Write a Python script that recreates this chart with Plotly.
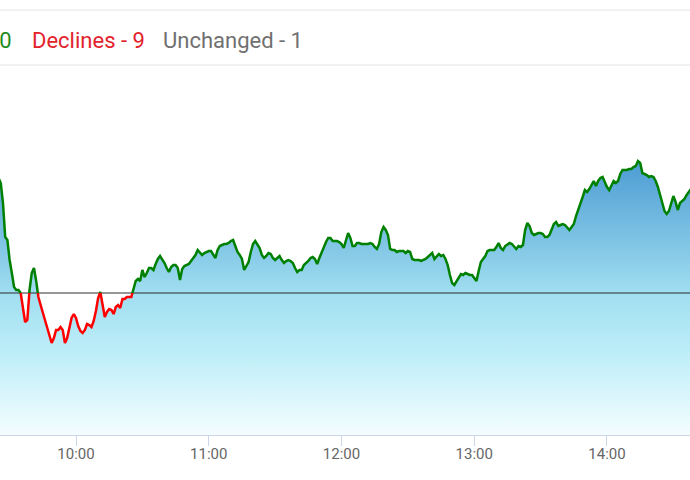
import pandas as pd
import plotly.graph_objects as go

# --- DATA ---
# intraday index, one print per minute starting 09:25 (earlier part is cropped off)
start_time = "2023-03-10 09:25"
prev_close = 17600

index_values = [
    17715, 17710, 17690, 17656, 17653, 17633, 17620, 17606, 17603, 17603,  # 09:25
    17600, 17583, 17571, 17573, 17603, 17620, 17625, 17612, 17596, 17588,  # 09:35
    17580, 17573, 17565, 17556, 17550, 17555, 17563, 17563, 17566, 17563,  # 09:45
    17550, 17555, 17566, 17575, 17579, 17575, 17567, 17562, 17560, 17563,  # 09:55
    17569, 17568, 17566, 17572, 17582, 17595, 17601, 17587, 17576, 17581,  # 10:05
    17584, 17583, 17579, 17586, 17588, 17585, 17594, 17594, 17596, 17596,  # 10:15
    17596, 17604, 17612, 17614, 17612, 17623, 17616, 17620, 17625, 17625,  # 10:25
    17623, 17629, 17634, 17637, 17634, 17630, 17625, 17621, 17626, 17628,  # 10:35
    17628, 17625, 17613, 17624, 17627, 17628, 17629, 17632, 17635, 17638,  # 10:45
    17643, 17640, 17638, 17640, 17641, 17642, 17642, 17639, 17635, 17643,  # 10:55
    17647, 17648, 17649, 17649, 17650, 17652, 17653, 17647, 17641, 17638,  # 11:05
    17634, 17623, 17627, 17631, 17641, 17649, 17652, 17648, 17645, 17638,  # 11:15
    17635, 17637, 17640, 17639, 17635, 17633, 17635, 17637, 17633, 17630,  # 11:25
    17632, 17633, 17632, 17630, 17625, 17621, 17623, 17623, 17628, 17630,  # 11:35
    17632, 17635, 17636, 17634, 17629, 17635, 17641, 17646, 17651, 17655,  # 11:45
    17655, 17652, 17652, 17652, 17651, 17649, 17645, 17653, 17660, 17655,  # 11:55
    17647, 17647, 17650, 17650, 17649, 17649, 17649, 17649, 17650, 17649,  # 12:05
    17646, 17644, 17649, 17661, 17666, 17663, 17658, 17644, 17643, 17643,  # 12:15
    17641, 17642, 17642, 17642, 17640, 17642, 17641, 17634, 17633, 17633,  # 12:25
    17633, 17632, 17633, 17634, 17636, 17638, 17640, 17634, 17637, 17639,  # 12:35
    17637, 17638, 17634, 17628, 17618, 17610, 17608, 17612, 17615, 17619,  # 12:45
    17618, 17620, 17619, 17618, 17618, 17615, 17612, 17622, 17631, 17634,  # 12:55
    17637, 17642, 17643, 17643, 17643, 17646, 17650, 17645, 17643, 17647,  # 13:05
    17649, 17650, 17649, 17646, 17644, 17647, 17646, 17648, 17663, 17670,  # 13:15
    17667, 17660, 17658, 17659, 17660, 17660, 17659, 17656, 17656, 17658,  # 13:25
    17664, 17669, 17671, 17667, 17668, 17669, 17668, 17665, 17663, 17666,  # 13:35
    17669, 17677, 17683, 17688, 17696, 17703, 17701, 17704, 17708, 17712,  # 13:45
    17707, 17712, 17715, 17716, 17711, 17706, 17703, 17707, 17712, 17710,  # 13:55
    17712, 17719, 17723, 17723, 17723, 17724, 17724, 17726, 17727, 17732,  # 14:05
    17730, 17720, 17719, 17718, 17716, 17717, 17716, 17712, 17706, 17699,  # 14:15
    17690, 17682, 17679, 17682, 17690, 17697, 17691, 17683, 17690, 17692,  # 14:25
    17694, 17698, 17701, 17704,                                            # 14:35
]

breadth_labels = ["Advances - 40", "Declines - 9", "Unchanged - 1"]
breadth_colors = ["#1f8c1f", "#e3232c", "#707070"]

times = pd.date_range(start_time, periods=len(index_values), freq="min")

# --- split the line into above / below previous close ---
def split_at_base(ts, vs, base):
    xs, ys = [], []
    for i, v in enumerate(vs):
        if i > 0 and (vs[i - 1] - base) * (v - base) < 0:
            f = (base - vs[i - 1]) / (v - vs[i - 1])
            xs.append(ts[i - 1] + (ts[i] - ts[i - 1]) * f)
            ys.append(base)
        xs.append(ts[i])
        ys.append(v)
    return xs, ys

xs, ys = split_at_base(list(times), index_values, prev_close)
above = [y if y >= prev_close else None for y in ys]
below = [y if y <= prev_close else None for y in ys]

y_range = [17458, 17828]
x_range = [pd.Timestamp("2023-03-10 09:25:39"), pd.Timestamp("2023-03-10 14:37:31")]

fig = go.Figure()

# gradient area
fig.add_trace(go.Scatter(
    x=times, y=index_values, mode="lines", line=dict(width=0),
    fill="tozeroy",
    fillgradient=dict(
        type="vertical",
        start=y_range[0], stop=max(index_values),
        colorscale=[[0, "#f4fdff"], [0.3, "#bdeef8"], [0.52, "#a0def0"], [1, "#4c9cd3"]],
    ),
    hoverinfo="skip", showlegend=False,
))

# previous close
fig.add_trace(go.Scatter(
    x=[times[0], times[-1]], y=[prev_close, prev_close], mode="lines",
    line=dict(color="rgba(40,40,40,0.65)", width=1.5),
    hoverinfo="skip", showlegend=False,
))

fig.add_trace(go.Scatter(
    x=xs, y=above, mode="lines", line=dict(color="#008000", width=2.5),
    connectgaps=False, showlegend=False,
))
fig.add_trace(go.Scatter(
    x=xs, y=below, mode="lines", line=dict(color="#ff0000", width=2.5),
    connectgaps=False, showlegend=False,
))

# breadth header (left part is cut off in the original view)
W = 690
label_pos = [(14, "right"), (30, "left"), (161, "left")]
for (px, anchor), txt, col in zip(label_pos, breadth_labels, breadth_colors):
    fig.add_annotation(
        x=px / W, y=(435 - 40) / 370, xref="paper", yref="paper",
        text=txt, showarrow=False, xanchor=anchor, yanchor="middle",
        font=dict(family="Roboto", size=22, color=col),
    )

for py in (10, 65):
    fig.add_shape(
        type="line", xref="paper", yref="paper",
        x0=0, x1=1, y0=(435 - py) / 370, y1=(435 - py) / 370,
        line=dict(color="#e4e4e4", width=1),
    )

fig.update_layout(
    width=690, height=480,
    margin=dict(l=0, r=0, t=65, b=45),
    paper_bgcolor="white", plot_bgcolor="white",
    showlegend=False,
    xaxis=dict(
        range=x_range, type="date",
        tickformat="%H:%M", dtick=3600000, tick0="2023-03-10 10:00",
        ticks="outside", ticklen=10, tickcolor="#ccd6eb", tickwidth=1,
        showline=True, linecolor="#ccd6eb", linewidth=1,
        showgrid=False, zeroline=False,
        ticklabelstandoff=-5,
        tickfont=dict(family="Roboto", size=15, color="#666666"),
    ),
    yaxis=dict(range=y_range, visible=False, showgrid=False, zeroline=False),
)

# page has a default 8px body margin; drop it so the chart sits at the corner
fig.write_html(
    "out.html",
    config={"displayModeBar": False},
    post_script="document.body.style.margin = '0';",
)
